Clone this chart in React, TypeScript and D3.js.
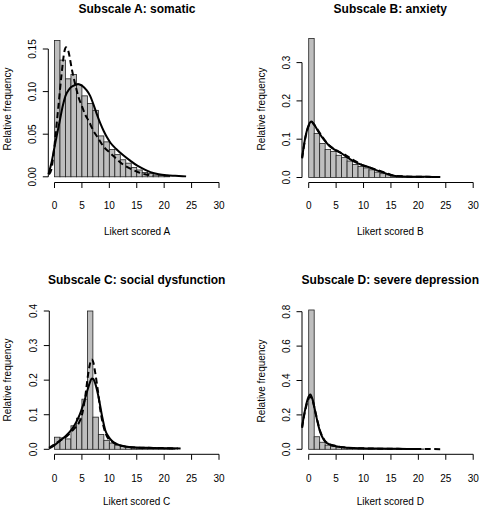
import React from "react";
import * as d3 from "d3";

type Pt = [number, number];

const xTicks = [0, 5, 10, 15, 20, 25, 30];

// Subscale A
const barsA = [0.160, 0.137, 0.115, 0.120, 0.108, 0.095, 0.086, 0.078, 0.048, 0.041, 0.032, 0.026, 0.020, 0.016, 0.011, 0.008, 0.005, 0.004, 0.002, 0.0015, 0.001];
const solidA: Pt[] = [[-1.1, 0.003], [-0.5, 0.018], [0, 0.035], [0.5, 0.051], [1.0, 0.067], [1.5, 0.083], [2.0, 0.095], [2.7, 0.103], [3.5, 0.107], [4.3, 0.109], [5.0, 0.107], [5.8, 0.102], [6.5, 0.095], [7.1, 0.085], [7.75, 0.073], [8.4, 0.062], [8.95, 0.054], [9.6, 0.046], [10.2, 0.040], [11.2, 0.033], [12.6, 0.025], [13.8, 0.019], [15.1, 0.013], [16.3, 0.009], [17.5, 0.0055], [19, 0.003], [20.5, 0.0018], [22, 0.0012], [24, 0.0005]];
const dashedA: Pt[] = [[-1.0, 0.003], [-0.6, 0.008], [-0.2, 0.025], [0.1, 0.043], [0.7, 0.082], [1.3, 0.121], [1.8, 0.147], [2.1, 0.152], [2.5, 0.148], [3.2, 0.125], [3.8, 0.108], [4.4, 0.093], [5.0, 0.083], [5.6, 0.073], [6.2, 0.066], [7.1, 0.054], [8.0, 0.045], [9.0, 0.035], [10.0, 0.029], [10.8, 0.024], [12.6, 0.014], [14.0, 0.009], [15.0, 0.006], [16.5, 0.003], [18, 0.0015]];
const yTicksA = [0, 0.05, 0.1, 0.15];
const yLabelsA = ["0.00", "0.05", "0.10", "0.15"];

// Subscale B
const barsB = [0.363, 0.115, 0.089, 0.073, 0.068, 0.058, 0.052, 0.043, 0.034, 0.029, 0.025, 0.020, 0.014, 0.010, 0.007, 0.004, 0.002, 0.002, 0.001, 0.001, 0.001];
const solidB: Pt[] = [[-1.2, 0.052], [-0.6, 0.106], [0, 0.137], [0.5, 0.146], [1.0, 0.138], [1.8, 0.119], [2.7, 0.100], [3.65, 0.084], [4.8, 0.072], [6.1, 0.062], [7.3, 0.050], [8.5, 0.040], [9.7, 0.033], [11.0, 0.027], [12.2, 0.020], [13.4, 0.014], [14.6, 0.008], [15.8, 0.004], [17, 0.003], [19, 0.002], [21, 0.002], [22.5, 0.0015], [24, 0.001]];
const dashedB: Pt[] = [[-1.2, 0.05], [-0.6, 0.104], [0, 0.135], [0.5, 0.145], [1.0, 0.138], [1.8, 0.121], [2.7, 0.102], [3.65, 0.085], [4.8, 0.073], [6.1, 0.063], [6.8, 0.058], [7.3, 0.053], [8.5, 0.043], [9.7, 0.033], [11.0, 0.026], [12.2, 0.021], [13.4, 0.015], [14.6, 0.009], [15.8, 0.004], [17, 0.003], [19, 0.002], [21, 0.002], [23, 0.001]];
const yTicksB = [0, 0.1, 0.2, 0.3];
const yLabelsB = ["0.0", "0.1", "0.2", "0.3"];

// Subscale C
const barsC = [0.035, 0.033, 0.030, 0.068, 0.090, 0.145, 0.400, 0.093, 0.043, 0.026, 0.018, 0.012, 0.008, 0.005, 0.004, 0.003, 0.003, 0.002, 0.002, 0.002, 0.002, 0.001];
const solidC: Pt[] = [[-0.9, 0.003], [0, 0.012], [1.0, 0.025], [2.0, 0.038], [3.0, 0.055], [3.5, 0.066], [4.0, 0.080], [4.6, 0.100], [5.0, 0.118], [5.5, 0.142], [5.9, 0.165], [6.5, 0.195], [6.8, 0.205], [7.1, 0.203], [7.44, 0.19], [8.05, 0.15], [8.65, 0.098], [9.26, 0.055], [9.87, 0.036], [10.5, 0.024], [11.5, 0.014], [13, 0.008], [15, 0.005], [18, 0.004], [21, 0.003], [23, 0.002]];
const dashedC: Pt[] = [[-1, 0.004], [0, 0.015], [1, 0.025], [2, 0.035], [2.9, 0.048], [3.6, 0.06], [4.4, 0.075], [5.0, 0.099], [5.6, 0.152], [6.2, 0.224], [6.6, 0.255], [6.8, 0.26], [7.1, 0.25], [7.4, 0.224], [7.9, 0.171], [8.35, 0.114], [8.96, 0.065], [9.6, 0.036], [10.5, 0.022], [11.5, 0.013], [13, 0.008], [15, 0.005], [18, 0.004], [21, 0.003], [22.5, 0.002]];
const yTicksC = [0, 0.1, 0.2, 0.3, 0.4];
const yLabelsC = ["0.0", "0.1", "0.2", "0.3", "0.4"];

// Subscale D
const barsD = [0.81, 0.073, 0.041, 0.024, 0.017, 0.013, 0.010, 0.008, 0.006, 0.005, 0.004, 0.004, 0.003, 0.003, 0.003, 0.002, 0.002, 0.002, 0.002, 0.002, 0.002];
const solidD: Pt[] = [[-1.2, 0.131], [-0.9, 0.19], [-0.6, 0.238], [-0.2, 0.29], [0.3, 0.318], [0.7, 0.29], [1.2, 0.219], [1.6, 0.16], [2.1, 0.10], [2.5, 0.07], [3.0, 0.044], [3.7, 0.03], [4.6, 0.021], [5.8, 0.013], [7.3, 0.009], [9.5, 0.006], [12.2, 0.004], [15, 0.003], [18, 0.002], [20.5, 0.002]];
const dashedD: Pt[] = [[-1.2, 0.125], [-0.9, 0.185], [-0.6, 0.23], [-0.2, 0.28], [0.3, 0.305], [0.7, 0.285], [1.2, 0.22], [1.6, 0.165], [2.1, 0.105], [2.5, 0.075], [3.0, 0.048], [3.7, 0.032], [4.6, 0.022], [5.8, 0.014], [7.3, 0.009], [9.5, 0.006], [12.2, 0.004], [15, 0.003], [18, 0.002], [21, 0.0015], [24, 0.001]];
const yTicksD = [0, 0.2, 0.4, 0.6, 0.8];
const yLabelsD = ["0.0", "0.2", "0.4", "0.6", "0.8"];

const titles = ["Subscale A: somatic", "Subscale B: anxiety", "Subscale C: social dysfunction", "Subscale D: severe depression"];
const xLabels = ["Likert scored A", "Likert scored B", "Likert scored C", "Likert scored D"];
const yLabel = "Relative frequency";

const FONT = "'Liberation Sans', Arial, Helvetica, sans-serif";

interface PanelProps {
  title: string;
  xLabel: string;
  bars: number[];
  solid: Pt[];
  dashed: Pt[];
  yTicks: number[];
  yLabels: string[];
  x0: number; x30: number; yAxisX: number;
  y0: number; yTop: number; xAxisY: number;
  titleX: number; titleY: number; xLabelY: number;
  yLabelX: number; yLabelCY: number; yTickLabelX: number; xTickLabelY: number;
}

function Panel(p: PanelProps) {
  const x = d3.scaleLinear().domain([0, 30]).range([p.x0, p.x30]);
  const yMax = p.yTicks[p.yTicks.length - 1];
  const y = d3.scaleLinear().domain([0, yMax]).range([p.y0, p.yTop]);
  const line = d3.line<Pt>().x(d => x(d[0])).y(d => y(d[1])).curve(d3.curveMonotoneX);
  return (
    <g>
      {p.bars.map((v, i) => (
        <rect key={i} x={x(i)} y={y(v)} width={x(i + 1) - x(i)} height={y(0) - y(v)}
          fill="#BEBEBE" stroke="#222" strokeWidth={0.8} />
      ))}
      <path d={line(p.solid) || ""} fill="none" stroke="#000" strokeWidth={2} strokeLinejoin="round" />
      <path d={line(p.dashed) || ""} fill="none" stroke="#000" strokeWidth={2} strokeDasharray="6,3.5" />
      {/* x axis */}
      <line x1={x(0)} x2={x(30)} y1={p.xAxisY} y2={p.xAxisY} stroke="#000" strokeWidth={1} />
      {xTicks.map(t => (
        <g key={t}>
          <line x1={x(t)} x2={x(t)} y1={p.xAxisY} y2={p.xAxisY + 5.5} stroke="#000" strokeWidth={1} />
          <text x={x(t)} y={p.xTickLabelY} textAnchor="middle" fontSize={10} fontFamily={FONT}>{t}</text>
        </g>
      ))}
      {/* y axis */}
      <line x1={p.yAxisX} x2={p.yAxisX} y1={y(0)} y2={y(yMax)} stroke="#000" strokeWidth={1} />
      {p.yTicks.map((t, i) => (
        <g key={t}>
          <line x1={p.yAxisX - 5.5} x2={p.yAxisX} y1={y(t)} y2={y(t)} stroke="#000" strokeWidth={1} />
          <text transform={`translate(${p.yTickLabelX},${y(t)}) rotate(-90)`} textAnchor="middle"
            fontSize={10} fontFamily={FONT}>{p.yLabels[i]}</text>
        </g>
      ))}
      <text x={p.titleX} y={p.titleY} textAnchor="middle" fontSize={12} fontWeight="bold" fontFamily={FONT}>{p.title}</text>
      <text x={p.titleX} y={p.xLabelY} textAnchor="middle" fontSize={10} fontFamily={FONT}>{p.xLabel}</text>
      <text transform={`translate(${p.yLabelX},${p.yLabelCY}) rotate(-90)`} textAnchor="middle"
        fontSize={10} fontFamily={FONT}>{yLabel}</text>
    </g>
  );
}

export default function App() {
  const left = { x0: 54.5, x30: 219 };
  const right = { x0: 308.7, x30: 473.2 };
  return (
    <svg width={484} height={510} style={{ position: "absolute", left: 0, top: 0, background: "#fff" }}>
      <rect width={484} height={510} fill="#fff" />
      <Panel title={titles[0]} xLabel={xLabels[0]} bars={barsA} solid={solidA} dashed={dashedA}
        yTicks={yTicksA} yLabels={yLabelsA} {...left} yAxisX={48.3} y0={176.8} yTop={49.0} xAxisY={182.5}
        titleX={137} titleY={12.7} xLabelY={235} yLabelX={10.5} yLabelCY={109} yTickLabelX={36} xTickLabelY={209} />
      <Panel title={titles[1]} xLabel={xLabels[1]} bars={barsB} solid={solidB} dashed={dashedB}
        yTicks={yTicksB} yLabels={yLabelsB} {...right} yAxisX={302} y0={177.5} yTop={62.6} xAxisY={182.5}
        titleX={390.3} titleY={12.7} xLabelY={235} yLabelX={265} yLabelCY={109} yTickLabelX={290} xTickLabelY={209} />
      <Panel title={titles[2]} xLabel={xLabels[2]} bars={barsC} solid={solidC} dashed={dashedC}
        yTicks={yTicksC} yLabels={yLabelsC} {...left} yAxisX={49.3} y0={449.3} yTop={311} xAxisY={454.3}
        titleX={136.7} titleY={283.5} xLabelY={505} yLabelX={10.5} yLabelCY={380} yTickLabelX={36.5} xTickLabelY={481.5} />
      <Panel title={titles[3]} xLabel={xLabels[3]} bars={barsD} solid={solidD} dashed={dashedD}
        yTicks={yTicksD} yLabels={yLabelsD} {...right} yAxisX={302} y0={449.3} yTop={311.7} xAxisY={454.3}
        titleX={390.3} titleY={283.5} xLabelY={505} yLabelX={265} yLabelCY={381} yTickLabelX={290} xTickLabelY={481.5} />
    </svg>
  );
}
